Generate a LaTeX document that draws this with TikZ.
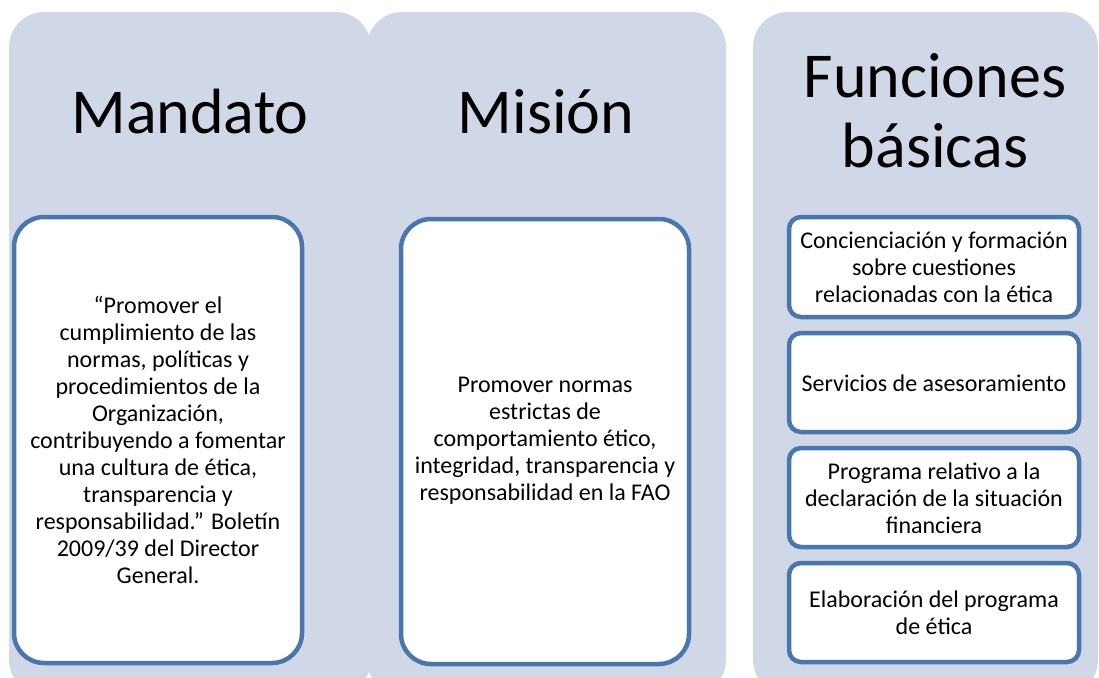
\documentclass[tikz,border=0pt]{standalone}
\usepackage{fontspec}
\setmainfont{Carlito}
\definecolor{colfill}{HTML}{D0D8E8}
\definecolor{boxline}{HTML}{4A76AE}
\begin{document}
\begin{tikzpicture}[x=1pt,y=-1pt,
  column/.style={fill=colfill, rounded corners=35pt},
  innerbox/.style={draw=boxline, line width=4.5pt, fill=white, rounded corners=30pt},
  smallbox/.style={draw=boxline, line width=4.5pt, fill=white, rounded corners=12pt},
  title/.style={font=\fontsize{64}{70}\selectfont, align=center, inner sep=0pt},
  body/.style={font=\fontsize{24}{27}\selectfont, align=center, inner sep=0pt}]
\useasboundingbox (0,0) rectangle (1099,677);
\begin{scope}
\clip (0,0) rectangle (1099,677);
% columns
\fill[column] (9,695) -- (9,12) -- (371,12) -- (371,695) -- cycle;
\fill[column] (367,695) -- (367,12) -- (726,12) -- (726,695) -- cycle;
\fill[column] (753,695) -- (753,12) -- (1098,12) -- (1098,695) -- cycle;
\end{scope}
% titles
\node[title, anchor=base] (t1) at (190,133) {Mandato};
\node[title, anchor=base] (t2) at (546,133) {Misión};
\node[title, anchor=base] (t3) at (935,97) {Funciones};
\node[title, anchor=base] (t3b) at (935,167) {básicas};
% inner boxes
\draw[innerbox] (14,217) rectangle (302,663);
\draw[innerbox] (401,219) rectangle (689,664);
\node[body] (m1) at (158,440) {“Promover el\\cumplimiento de las\\normas, políticas y\\procedimientos de la\\Organización,\\contribuyendo a fomentar\\una cultura de ética,\\transparencia y\\responsabilidad.” Boletín\\2009/39 del Director\\General.};
\node[body] (m2) at (545,441) {Promover normas\\estrictas de\\comportamiento ético,\\integridad, transparencia y\\responsabilidad en la FAO};
% function boxes
\draw[smallbox] (789,217) rectangle (1079,317);
\draw[smallbox] (789,333) rectangle (1079,432);
\draw[smallbox] (789,448) rectangle (1079,547);
\draw[smallbox] (789,563) rectangle (1079,662);
\node[body] (f1) at (934,267) {Concienciación y formación\\sobre cuestiones\\relacionadas con la ética};
\node[body] (f2) at (934,383) {Servicios de asesoramiento};
\node[body] (f3) at (934,498) {Programa relativo a la\\declaración de la situación\\financiera};
\node[body] (f4) at (934,613) {Elaboración del programa\\de ética};
\end{tikzpicture}
\end{document}
